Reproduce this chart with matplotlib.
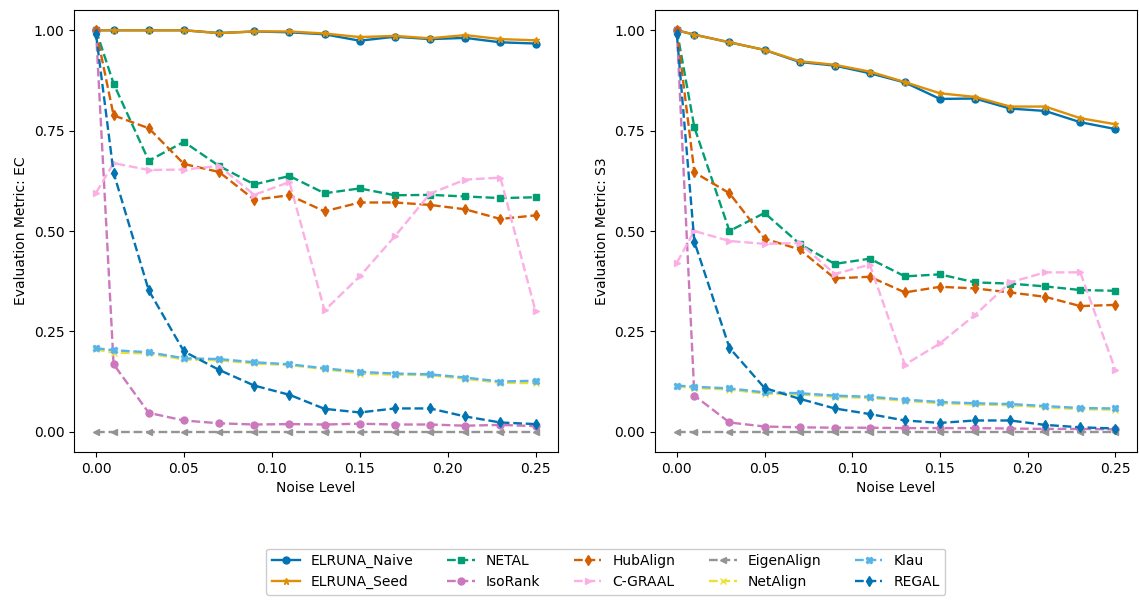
import numpy as np
import matplotlib

matplotlib.use("Agg")
import matplotlib.pyplot as plt

plt.rcParams["font.size"] = 10

noise = [0.0, 0.01, 0.03, 0.05, 0.07, 0.09, 0.11, 0.13, 0.15, 0.17, 0.19, 0.21, 0.23, 0.25]

methods = ["ELRUNA_Naive", "ELRUNA_Seed", "NETAL", "IsoRank", "HubAlign",
           "C-GRAAL", "EigenAlign", "NetAlign", "Klau", "REGAL"]

# Evaluation metric: EC
ec_naive = [1.0, 1.0, 1.0, 1.0, 0.993, 0.997, 0.995, 0.99, 0.974, 0.984, 0.978, 0.981, 0.97, 0.967]
ec_seed = [1.0, 1.0, 1.0, 1.0, 0.993, 0.997, 0.997, 0.992, 0.983, 0.986, 0.98, 0.988, 0.978, 0.975]
ec_netal = [1.0, 0.867, 0.675, 0.722, 0.662, 0.616, 0.637, 0.594, 0.606, 0.589, 0.59, 0.586, 0.582, 0.584]
ec_isorank = [1.0, 0.168, 0.047, 0.028, 0.021, 0.018, 0.019, 0.018, 0.02, 0.018, 0.018, 0.015, 0.017, 0.014]
ec_hubalign = [1.0, 0.788, 0.756, 0.667, 0.647, 0.578, 0.589, 0.549, 0.571, 0.571, 0.565, 0.554, 0.530, 0.539]
ec_cgraal = [0.595, 0.669, 0.652, 0.653, 0.662, 0.59, 0.622, 0.302, 0.387, 0.487, 0.593, 0.628, 0.633, 0.30]
ec_eigen = [0.0] * 14
ec_netalign = [0.205, 0.197, 0.195, 0.18, 0.178, 0.17, 0.166, 0.156, 0.145, 0.142, 0.141, 0.132, 0.122, 0.121]
ec_klau = [0.208, 0.203, 0.198, 0.183, 0.181, 0.173, 0.168, 0.158, 0.149, 0.145, 0.143, 0.135, 0.125, 0.127]
ec_regal = [0.99, 0.645, 0.352, 0.20, 0.154, 0.115, 0.092, 0.057, 0.048, 0.058, 0.058, 0.038, 0.023, 0.019]

# Evaluation metric: S3
s3_naive = [1.0, 0.989, 0.970, 0.951, 0.921, 0.912, 0.893, 0.870, 0.829, 0.830, 0.805, 0.799, 0.771, 0.754]
s3_seed = [1.0, 0.989, 0.970, 0.951, 0.923, 0.914, 0.897, 0.871, 0.843, 0.834, 0.810, 0.810, 0.781, 0.766]
s3_netal = [1.0, 0.758, 0.50, 0.545, 0.468, 0.418, 0.431, 0.387, 0.392, 0.372, 0.369, 0.362, 0.353, 0.351]
s3_isorank = [1.0, 0.09, 0.023, 0.013, 0.011, 0.01, 0.01, 0.009, 0.009, 0.009, 0.008, 0.007, 0.007, 0.006]
s3_hubalign = [1.0, 0.646, 0.594, 0.481, 0.454, 0.382, 0.386, 0.347, 0.361, 0.357, 0.347, 0.336, 0.313, 0.316]
s3_cgraal = [0.421, 0.50, 0.475, 0.468, 0.47, 0.393, 0.416, 0.167, 0.22, 0.291, 0.372, 0.397, 0.397, 0.154]
s3_eigen = [0.0] * 14
s3_netalign = [0.113, 0.109, 0.105, 0.095, 0.093, 0.087, 0.084, 0.077, 0.071, 0.068, 0.066, 0.061, 0.056, 0.055]
s3_klau = [0.115, 0.112, 0.108, 0.098, 0.096, 0.09, 0.087, 0.08, 0.074, 0.071, 0.069, 0.064, 0.059, 0.058]
s3_regal = [0.99, 0.473, 0.209, 0.109, 0.082, 0.058, 0.044, 0.028, 0.022, 0.028, 0.028, 0.017, 0.011, 0.008]

ec = [ec_naive, ec_seed, ec_netal, ec_isorank, ec_hubalign,
      ec_cgraal, ec_eigen, ec_netalign, ec_klau, ec_regal]
s3 = [s3_naive, s3_seed, s3_netal, s3_isorank, s3_hubalign,
      s3_cgraal, s3_eigen, s3_netalign, s3_klau, s3_regal]

# seaborn "colorblind" palette
colors = ["#0173b2", "#de8f05", "#029e73", "#cc78bc", "#d55e00",
          "#fbafe4", "#949494", "#ece133", "#56b4e9", "#0173b2"]
markers = ["o", "*", "s", "o", "d", ">", "<", "x", "X", "d"]
styles = ["-", "-", "--", "--", "--", "--", "--", "--", "--", "--"]

fig = plt.figure(figsize=(11.39, 6), dpi=100)
ax1 = fig.add_axes([0.065, 0.247, 0.4245, 0.736])
ax2 = fig.add_axes([0.575, 0.247, 0.4235, 0.736])

for ax, data, label in [(ax1, ec, "EC"), (ax2, s3, "S3")]:
    for name, y, c, m, ls in zip(methods, data, colors, markers, styles):
        ax.plot(noise, y, linestyle=ls, marker=m, color=c, label=name,
                markersize=5, linewidth=1.7)
    ax.set_xlabel("Noise Level")
    ax.set_ylabel("Evaluation Metric: " + label)
    ax.set_xticks([0.0, 0.05, 0.10, 0.15, 0.20, 0.25])
    ax.set_yticks([0.0, 0.25, 0.5, 0.75, 1.0])
    ax.set_xlim(-0.0125, 0.2625)
    ax.set_ylim(-0.05, 1.05)

handles, labels = ax1.get_legend_handles_labels()
fig.legend(handles, labels, loc="center", bbox_to_anchor=(0.532, 0.047), ncol=5,
           fontsize=10, framealpha=1.0, columnspacing=2.4)

plt.savefig("out.png", dpi=100)
